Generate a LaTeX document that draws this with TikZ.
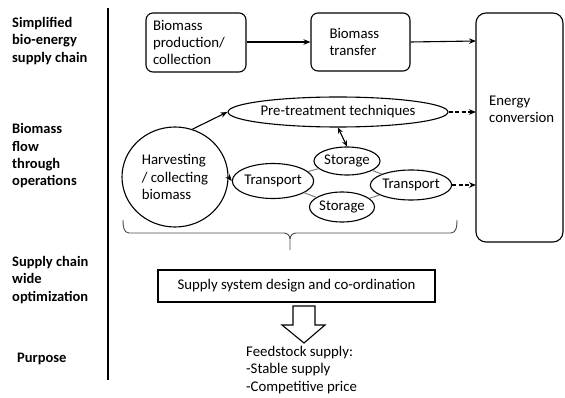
\documentclass[tikz,border=0pt]{standalone}
\usepackage{fontspec}
\setmainfont{Carlito}
\usetikzlibrary{arrows.meta,shapes.geometric}
\begin{document}
\begin{tikzpicture}[x=1pt,y=-1pt,
  every node/.style={font=\fontsize{14.8}{17.3}\selectfont},
  lab/.style={font=\fontsize{14.5}{17.3}\selectfont\bfseries,align=left,anchor=west,inner sep=0},
  rbox/.style={draw,line width=1.1pt,rounded corners=7pt,align=left},
  oval/.style={draw,ellipse,line width=1.1pt,inner sep=0},
  arr/.style={-{Stealth[length=7pt,width=5.5pt]},line width=1.1pt},
  darr/.style={arr,dashed,dash pattern=on 4pt off 2.5pt},
  glink/.style={draw=gray,line width=1pt}]
\useasboundingbox (0,0) rectangle (565,398);
% divider
\draw[line width=1.1pt] (108,8) -- (108,380);
% left labels
\node[lab] (l1) at (12,41) {Simplified\\bio-energy\\supply chain};
\node[lab] (l2) at (12,156) {Biomass\\flow\\through\\operations};
\node[lab] (l3) at (12,280) {Supply chain\\wide\\optimization};
\node[lab] (l4) at (17,359) {Purpose};
% top chain
\node[rbox,minimum width=100pt,minimum height=59pt,text width=86pt] (prod) at (196,42.5) {Biomass\\production/\\collection};
\node[rbox,minimum width=99pt,minimum height=58pt,text width=62pt] (trans) at (360.5,42) {Biomass\\transfer};
\draw[line width=1.1pt,rounded corners=10pt] (476,13) -- (563,13) -- (563,242) -- (476,242) -- cycle;
\node[align=left,anchor=west,inner sep=0] (energy) at (489,109) {Energy\\conversion};
\coordinate (e1) at (476,41);
\coordinate (e2) at (476,112);
\coordinate (e3) at (476,185);
\draw[arr] (prod.east |- 0,42) -- (trans.west |- 0,42);
\draw[arr] (trans.east |- 0,42) -- (e1);
% flow
\node[oval,minimum width=220pt,minimum height=30pt] (pre) at (338,112) {Pre-treatment techniques};
\node[oval,minimum width=106pt,minimum height=100pt,align=left] (harv) at (175,177) {Harvesting\\/ collecting\\biomass};
\node[oval,minimum width=62pt,minimum height=35pt] (t1) at (273,181) {Transport};
\node[oval,minimum width=66pt,minimum height=28pt] (s1) at (347,161) {Storage};
\node[oval,minimum width=65pt,minimum height=30pt] (s2) at (342,207) {Storage};
\node[oval,minimum width=73pt,minimum height=30pt] (t2) at (411,185) {Transport};
\draw[glink] (t1) -- (s1);
\draw[glink] (t1) -- (s2);
\draw[glink] (s1) -- (t2);
\draw[glink] (s2) -- (t2);
\draw[arr] (harv.70) -- (pre.west);
\draw[arr] (harv.east) -- (t1.west);
\draw[{Stealth[length=6pt,width=5pt]}-{Stealth[length=6pt,width=5pt]},line width=1.1pt] (pre.south) -- (s1.north);
\draw[darr] (pre.east) -- (e2);
\draw[darr] (t2.east) -- (e3);
% brace
\coordinate (bl) at (123,220);
\coordinate (br) at (457,220);
\coordinate (bt) at (290,250);
\draw[line width=0.9pt,gray!60!black] (bl) to[out=-90,in=180] (129,233) -- (284,233) to[out=0,in=90] (290,239) -- (bt);
\draw[line width=0.9pt,gray!60!black] (290,239) to[out=90,in=180] (296,233) -- (451,233) to[out=0,in=-90] (br);
% optimization box
\node[draw,line width=1.2pt,minimum width=277pt,minimum height=32pt] (opt) at (296.5,286) {Supply system design and co-ordination};
% block arrow
\draw[line width=1.1pt] (293,306) -- (315,306) -- (315,325) -- (325,325) -- (304,343) -- (282,325) -- (293,325) -- cycle;
\node[align=left,anchor=north west,inner sep=0] (feed) at (246,346) {Feedstock supply:\\-Stable supply\\-Competitive price};
\end{tikzpicture}
\end{document}
